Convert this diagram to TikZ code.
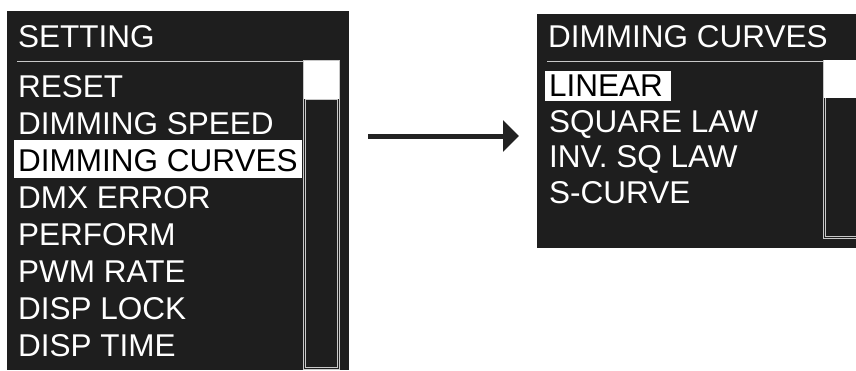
\documentclass[tikz,border=0pt]{standalone}
\usepackage{fontspec}
\setmainfont{Liberation Sans}
\usetikzlibrary{arrows.meta}
\definecolor{screen}{HTML}{1E1E1E}
\definecolor{frame}{HTML}{C8C8C8}
\definecolor{ink}{HTML}{222222}

\begin{document}
\begin{tikzpicture}[x = 1pt, y = -1pt]
    \tikzstyle{rule}=[draw,line width = 1pt,-,frame]
    \tikzstyle{item}=[anchor=base west,inner sep=0pt,text=white,font=\fontsize{31.5}{36}\selectfont]
    \tikzstyle{chosen}=[item,fill=white,text=black,inner xsep=4pt]
    \tikzstyle{pointer}=[draw,line width = 5pt,ink,-{Triangle[length=16pt,width=31pt]}]
    \useasboundingbox (0,0) rectangle (856,370);
    % left screen
    \fill[screen] (7,11) rectangle (349,370);
    \draw[rule] (17,61) -- (303,61);
    \fill[white] (303,60) rectangle (339,99);
    \draw[rule] (303,60) rectangle (339,369);
    \draw[rule] (305.5,99) rectangle (337,367);
    \node[item] (setting) at (18,47) {SETTING};
    \node[item] (reset) at (18,97) {RESET};
    \node[item] (speed) at (18,134) {DIMMING SPEED};
    \node[chosen,text height=31pt,text depth=6.5pt] (curves) at (14,171) {DIMMING CURVES};
    \node[item] (dmx) at (18,208) {DMX ERROR};
    \node[item] (perform) at (18,245) {PERFORM};
    \node[item] (pwm) at (18,282) {PWM RATE};
    \node[item] (lock) at (18,319) {DISP LOCK};
    \node[item] (time) at (18,356) {DISP TIME};
    % right screen
    \fill[screen] (537,14) rectangle (856,248);
    \draw[rule] (547,61) -- (823,61);
    \fill[white] (823,60) rectangle (856,98);
    \draw[rule] (823,60) -- (823,238) -- (857,238);
    \draw[rule] (825.5,98) -- (825.5,236) -- (857,236);
    \node[item] (title) at (548,47) {DIMMING CURVES};
    \node[chosen,text height=25.7pt,text depth=4pt,text width=118pt,align=left] (linear) at (545,96.7) {LINEAR};
    \node[item] (square) at (549,132) {SQUARE LAW};
    \node[item] (inverse) at (549,167) {INV. SQ LAW};
    \node[item] (scurve) at (549,203) {S-CURVE};
    % arrow between screens
    \coordinate (from) at (368,136);
    \coordinate (to) at (519,136);
    \draw[pointer] (from) -- (to);
\end{tikzpicture}
\end{document}
